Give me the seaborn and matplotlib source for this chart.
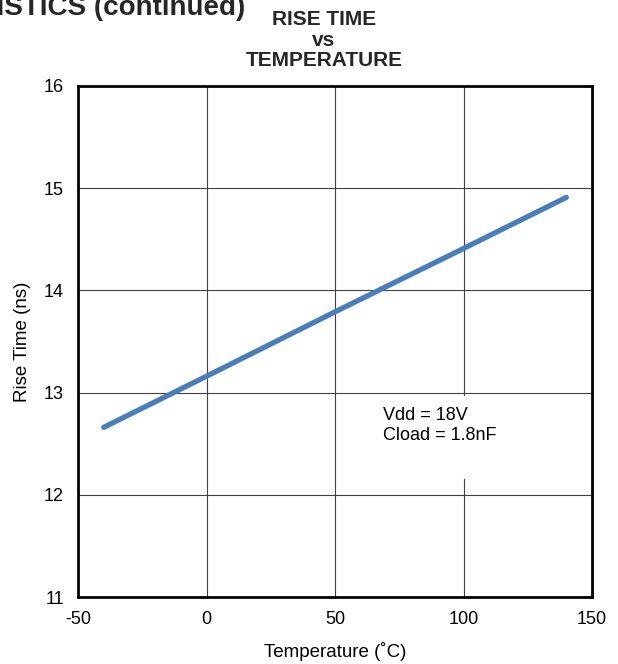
import pandas as pd
import matplotlib.pyplot as plt
from matplotlib.patches import Rectangle
import seaborn as sns

temperature = [-40, 0, 50, 100, 140]
rise_time = [12.66, 13.16, 13.79, 14.41, 14.91]
x_ticks = [-50, 0, 50, 100, 150]
y_ticks = [11, 12, 13, 14, 15, 16]

df = pd.DataFrame({'Temperature': temperature, 'Rise Time': rise_time})

sns.set_style('white')
plt.rcParams['font.family'] = ['Liberation Sans', 'DejaVu Sans']
plt.rcParams['axes.unicode_minus'] = False

fig = plt.figure(figsize=(6.18, 6.64), dpi=100)
ax = fig.add_axes([78 / 618, 1 - 597 / 664, 514 / 618, 511 / 664])

sns.lineplot(data=df, x='Temperature', y='Rise Time', ax=ax,
             color='#4a7ebb', linewidth=3.8, solid_capstyle='round', zorder=3)

ax.set_xlim(-50, 150)
ax.set_ylim(11, 16)
ax.set_xticks(x_ticks)
ax.set_yticks(y_ticks)
ax.grid(True, color='#404040', linewidth=0.8)
ax.set_axisbelow(True)
for s in ax.spines.values():
    s.set_visible(True)
    s.set_color('black')
    s.set_linewidth(2)
ax.tick_params(axis='both', labelsize=13, length=0, pad=10, colors='black')
ax.set_xlabel('Temperature (˚C)', fontsize=13.5, labelpad=10, color='black')
ax.set_ylabel('Rise Time (ns)', fontsize=13.5, labelpad=9, color='black')

# white area behind the note, breaking the vertical grid line
ax.add_patch(Rectangle((92, 12.15), 16, 0.82, facecolor='white',
                       edgecolor='none', zorder=1))
ax.text(68.5, 12.68, 'Vdd = 18V\nCload = 1.8nF', fontsize=13, linespacing=1.2,
        va='center', ha='left', color='black', zorder=4)

fig.text(0.524, 1 - 10 / 664, 'RISE TIME\nvs\nTEMPERATURE', ha='center', va='top',
         fontsize=15, fontweight='bold', linespacing=1.1)
fig.text(245 / 618, 1 - 15 / 664, 'CHARACTERISTICS (continued)', ha='right',
         va='baseline', fontsize=20, fontweight='bold')

fig.savefig('out.png', dpi=100)
